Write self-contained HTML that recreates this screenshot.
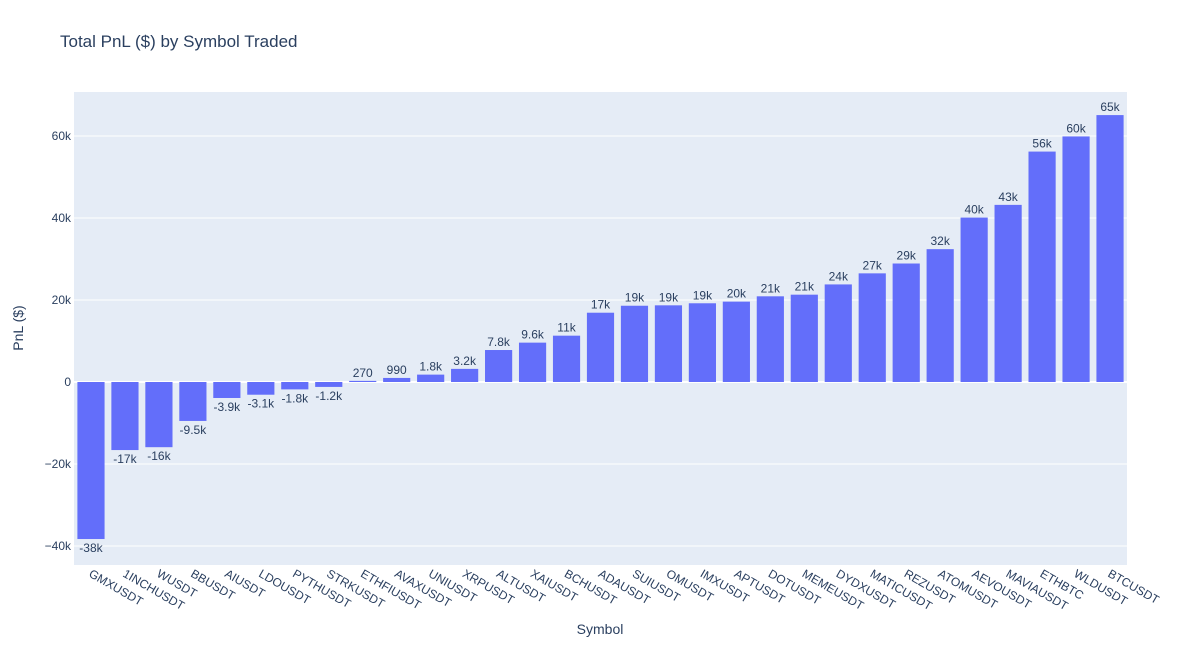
<!DOCTYPE html>
<html><head><meta charset="utf-8"><style>
body{margin:0;background:#fff;font-family:"Liberation Sans",Arial,sans-serif}
svg text{font-family:"Liberation Sans",Arial,sans-serif;fill:#2a3f5f}
</style></head><body>
<svg id="chart" width="1200" height="646" xmlns="http://www.w3.org/2000/svg">
<text x="60" y="47" font-size="17">Total PnL ($) by Symbol Traded</text>
<rect x="74" y="92" width="1053" height="473" fill="#e5ecf6"/>
<g id="grid"></g><g id="bars"></g><g id="labels"></g><g id="xticks"></g><g id="yticks"></g>
<text x="600" y="634" font-size="14" text-anchor="middle">Symbol</text>
<text x="23" y="328" font-size="14" text-anchor="middle" transform="rotate(-90 23 328)">PnL ($)</text>
</svg>
<script>
const categories=["GMXUSDT","1INCHUSDT","WUSDT","BBUSDT","AIUSDT","LDOUSDT","PYTHUSDT","STRKUSDT","ETHFIUSDT","AVAXUSDT","UNIUSDT","XRPUSDT","ALTUSDT","XAIUSDT","BCHUSDT","ADAUSDT","SUIUSDT","OMUSDT","IMXUSDT","APTUSDT","DOTUSDT","MEMEUSDT","DYDXUSDT","MATICUSDT","REZUSDT","ATOMUSDT","AEVOUSDT","MAVIAUSDT","ETHBTC","WLDUSDT","BTCUSDT"];
const values=[-38300,-16600,-15900,-9500,-3900,-3100,-1800,-1200,270,990,1800,3200,7800,9600,11300,16900,18600,18700,19200,19600,20900,21300,23800,26500,28900,32400,40100,43200,56200,59900,65100];
const valueLabels=["-38k","-17k","-16k","-9.5k","-3.9k","-3.1k","-1.8k","-1.2k","270","990","1.8k","3.2k","7.8k","9.6k","11k","17k","19k","19k","19k","20k","21k","21k","24k","27k","29k","32k","40k","43k","56k","60k","65k"];
const yTicks=[-40000,-20000,0,20000,40000,60000];
const yTickLabels=["−40k","−20k","0","20k","40k","60k"];
const NS="http://www.w3.org/2000/svg";
const L=74,R=1127,T=92,B=565,y0=382,pxPer=82/20000;
const yScale=v=>y0-v*pxPer;
const band=(R-L)/categories.length;
const xScale=i=>L+band*(i+0.5);
function mk(tag,attrs,parent){const e=document.createElementNS(NS,tag);for(const k in attrs)e.setAttribute(k,attrs[k]);document.getElementById(parent).appendChild(e);return e;}
yTicks.forEach((t,i)=>{
 const g=mk('line',{x1:L,x2:R,y1:yScale(t),y2:yScale(t),stroke:'#fff','stroke-width':t===0?2:1},'grid');
 
 
 const tx=mk('text',{x:L-3,y:yScale(t)+4,'font-size':12,'text-anchor':'end'},'yticks');
 tx.textContent=yTickLabels[i];
 
 
});
const bw=band*0.8;
values.forEach((v,i)=>{
 const cx=xScale(i),y=yScale(v);
 const r=mk('rect',{x:cx-bw/2,y:Math.min(y,y0),width:bw,height:Math.max(Math.abs(y-y0),0.5),fill:'#636efa'},'bars');
 
 
 const lt=mk('text',{x:cx,y:v>=0?y-4:y+13,'font-size':12,'text-anchor':'middle'},'labels');
 lt.textContent=valueLabels[i];
 
 
 const xt=mk('text',{x:cx-3,y:B+11,'font-size':12,'text-anchor':'start',transform:'rotate(30 '+(cx-3)+' '+(B+11)+')'},'xticks');
 xt.textContent=categories[i];
 
 
});
</script>
</body></html>
